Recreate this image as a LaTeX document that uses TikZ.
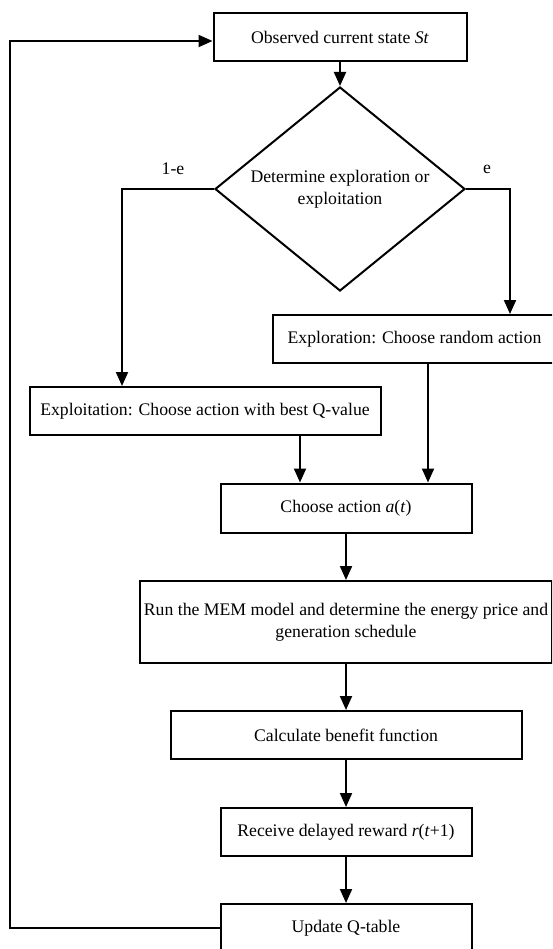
\documentclass[tikz,border=0pt]{standalone}
\usepackage{fontspec}
\setmainfont{Liberation Serif}
\usetikzlibrary{arrows.meta,shapes.geometric}
\begin{document}
\begin{tikzpicture}[x=1pt,y=-1pt,
  font=\fontsize{17.7}{21.7}\selectfont,
  box/.style={draw,line width=2pt,rectangle,inner sep=0pt,align=center,minimum height=48pt},
  dia/.style={draw,line width=2pt,diamond,shape aspect=1.225,inner sep=0pt,align=center,minimum width=250pt,minimum height=204pt},
  arr/.style={line width=2pt,-{Triangle[length=14pt,width=12pt]}},
  lbl/.style={inner sep=0pt}]
\useasboundingbox (0,0) rectangle (552,949);
\fill[white] (0,0) rectangle (552,949);
\clip (0,0) rectangle (552,949);

\node[box,minimum width=253pt] (obs) at (340,37) {Observed current state \textit{St}};
\node[dia] (dec) at (340,189) {Determine exploration or\\exploitation};
\node[box,minimum width=351pt] (exploit) at (205,411) {Exploitation: Choose action with best Q-value};
\node[box,minimum width=284pt] (explore) at (414.5,339) {Exploration: Choose random action};
\node[box,minimum width=251pt,minimum height=49pt] (choose) at (346,508) {Choose action \textit{a}(\textit{t})};
\node[box,minimum width=412pt,minimum height=82pt] (mem) at (346,622) {Run the MEM model and determine the energy price and\\generation schedule};
\node[box,minimum width=351pt] (calc) at (346,735) {Calculate benefit function};
\node[box,minimum width=251pt] (recv) at (346,832) {Receive delayed reward \textit{r}(\textit{t}+1)};
\node[box,minimum width=251pt] (upd) at (346,928) {Update Q-table};

\node[lbl] (l1) at (173,169) {1-e};
\node[lbl] (l2) at (487,169) {e};

\coordinate (lx) at (122,0);
\coordinate (rx) at (510,0);
\coordinate (ax) at (300,0);
\coordinate (bx) at (428,0);
\coordinate (loopx) at (10,0);
\coordinate (obsin) at ([yshift=-4pt]obs.west);

\draw[arr] (obs.south) -- (obs.south |- dec.north);
\draw[arr] (dec.west) -| (lx |- exploit.north);
\draw[arr] (dec.east) -| (rx |- explore.north);
\draw[arr] (ax |- exploit.south) -- (ax |- choose.north);
\draw[arr] (bx |- explore.south) -- (bx |- choose.north);
\draw[arr] (choose.south) -- (choose.south |- mem.north);
\draw[arr] (mem.south) -- (mem.south |- calc.north);
\draw[arr] (calc.south) -- (calc.south |- recv.north);
\draw[arr] (recv.south) -- (recv.south |- upd.north);
\draw[arr] (upd.west) -| (loopx |- obsin) -- (obsin);
\end{tikzpicture}
\end{document}
